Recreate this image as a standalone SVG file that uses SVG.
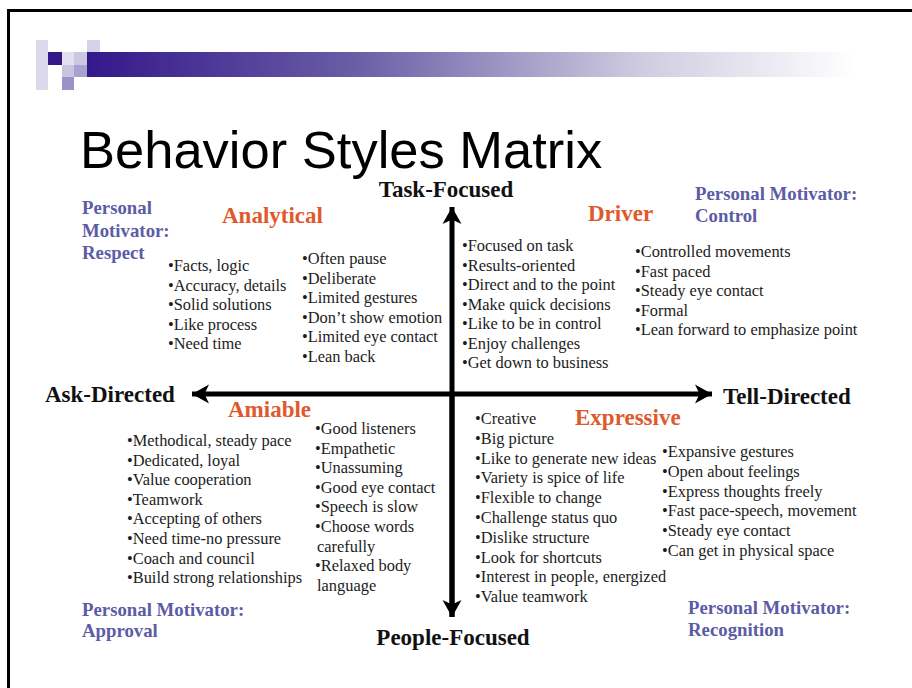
<svg xmlns="http://www.w3.org/2000/svg" width="912" height="688" viewBox="0 0 912 688">
  <defs>
    <linearGradient id="barGrad" x1="0" y1="0" x2="1" y2="0">
      <stop offset="0" stop-color="#34188a"/>
      <stop offset="0.35" stop-color="#6a5ea6"/>
      <stop offset="0.72" stop-color="#cfcce0"/>
      <stop offset="1" stop-color="#ffffff"/>
    </linearGradient>
    <marker id="head" markerUnits="userSpaceOnUse" markerWidth="22" markerHeight="22" viewBox="0 0 22 22" refX="19" refY="11" orient="auto">
      <path d="M19,11 L2,1.5 L6.5,11 L2,20.5 Z" fill="#000"/>
    </marker>
    <style>
      .axis { fill: none; stroke: #000; stroke-width: 5; marker-end: url(#head); }
      .axisLabel { font-family: "Liberation Serif", "Times New Roman", serif; font-weight: bold; font-size: 23px; fill: #111; }
      .style { font-family: "Liberation Serif", "Times New Roman", serif; font-weight: bold; font-size: 23px; fill: #e0592c; }
      .motive { font-family: "Liberation Serif", "Times New Roman", serif; font-weight: bold; font-size: 18.8px; fill: #5c5ca6; }
      .item { font-family: "Liberation Serif", "Times New Roman", serif; font-size: 16.4px; fill: #1c1c1c; }
      .title { font-family: "Liberation Sans", Arial, sans-serif; font-size: 52.5px; fill: #000; }
    </style>
  </defs>

  <rect x="0" y="0" width="912" height="688" fill="#fff"/>
  <!-- slide frame -->
  <rect x="8.5" y="10.5" width="912" height="690" fill="none" stroke="#000" stroke-width="3"/>

  <!-- header ornament: pixel blocks and fading bar -->
  <g id="header">
    <rect x="87" y="52" width="770" height="25" fill="url(#barGrad)"/>
    <rect x="36" y="40" width="12" height="50" fill="#dcd9ea"/>
    <rect x="87" y="40" width="13" height="12" fill="#d6d2e8"/>
    <rect x="48" y="52" width="14" height="13" fill="#34188a"/>
    <rect x="62" y="52" width="12" height="13" fill="#e2dff0"/>
    <rect x="74" y="52" width="13" height="13" fill="#cdc8e2"/>
    <rect x="62" y="65" width="12" height="12" fill="#c9c4e0"/>
    <rect x="74" y="65" width="13" height="12" fill="#a9a1d0"/>
    <rect x="62" y="77" width="12" height="13" fill="#9a92c8"/>
  </g>

  <g id="title">
    <text class="title" x="80" y="168">Behavior Styles Matrix</text>
  </g>

  <!-- the two axes -->
  <g id="connectors">
    <line class="axis" x1="452" y1="617" x2="452" y2="207"/>
    <line class="axis" x1="452" y1="394" x2="452" y2="617"/>
    <line class="axis" x1="452" y1="394" x2="192" y2="394"/>
    <line class="axis" x1="452" y1="394" x2="712" y2="394"/>
  </g>

  <g id="axis-task">
    <text class="axisLabel" x="446" y="197" text-anchor="middle">Task-Focused</text>
  </g>
  <g id="axis-people">
    <text class="axisLabel" x="453" y="645" text-anchor="middle">People-Focused</text>
  </g>
  <g id="axis-ask">
    <text class="axisLabel" x="45" y="402">Ask-Directed</text>
  </g>
  <g id="axis-tell">
    <text class="axisLabel" x="723" y="404">Tell-Directed</text>
  </g>

  <g id="analytical">
    <text class="style" x="222" y="223">Analytical</text>
    <text class="motive" x="82" y="214">Personal</text>
    <text class="motive" x="82" y="237">Motivator:</text>
    <text class="motive" x="82" y="259">Respect</text>
    <text class="item" x="168" y="271">•Facts, logic</text>
    <text class="item" x="168" y="290.5">•Accuracy, details</text>
    <text class="item" x="168" y="310">•Solid solutions</text>
    <text class="item" x="168" y="329.5">•Like process</text>
    <text class="item" x="168" y="349">•Need time</text>
    <text class="item" x="302" y="264">•Often pause</text>
    <text class="item" x="302" y="283.5">•Deliberate</text>
    <text class="item" x="302" y="303">•Limited gestures</text>
    <text class="item" x="302" y="322.5">•Don’t show emotion</text>
    <text class="item" x="302" y="342">•Limited eye contact</text>
    <text class="item" x="302" y="361.5">•Lean back</text>
  </g>

  <g id="driver">
    <text class="style" x="588" y="221">Driver</text>
    <text class="motive" x="695" y="200">Personal Motivator:</text>
    <text class="motive" x="695" y="222">Control</text>
    <text class="item" x="462" y="251">•Focused on task</text>
    <text class="item" x="462" y="270.5">•Results-oriented</text>
    <text class="item" x="462" y="290">•Direct and to the point</text>
    <text class="item" x="462" y="309.5">•Make quick decisions</text>
    <text class="item" x="462" y="329">•Like to be in control</text>
    <text class="item" x="462" y="348.5">•Enjoy challenges</text>
    <text class="item" x="462" y="368">•Get down to business</text>
    <text class="item" x="635" y="257">•Controlled movements</text>
    <text class="item" x="635" y="276.5">•Fast paced</text>
    <text class="item" x="635" y="296">•Steady eye contact</text>
    <text class="item" x="635" y="315.5">•Formal</text>
    <text class="item" x="635" y="335">•Lean forward to emphasize point</text>
  </g>

  <g id="amiable">
    <text class="style" x="228" y="417">Amiable</text>
    <text class="item" x="127" y="446">•Methodical, steady pace</text>
    <text class="item" x="127" y="465.6">•Dedicated, loyal</text>
    <text class="item" x="127" y="485.2">•Value cooperation</text>
    <text class="item" x="127" y="504.8">•Teamwork</text>
    <text class="item" x="127" y="524.4">•Accepting of others</text>
    <text class="item" x="127" y="544">•Need time-no pressure</text>
    <text class="item" x="127" y="563.6">•Coach and council</text>
    <text class="item" x="127" y="583.2">•Build strong relationships</text>
    <text class="item" x="315" y="434">•Good listeners</text>
    <text class="item" x="315" y="453.6">•Empathetic</text>
    <text class="item" x="315" y="473.2">•Unassuming</text>
    <text class="item" x="315" y="492.8">•Good eye contact</text>
    <text class="item" x="315" y="512.4">•Speech is slow</text>
    <text class="item" x="315" y="532">•Choose words</text>
    <text class="item" x="317" y="551.6">carefully</text>
    <text class="item" x="315" y="571.2">•Relaxed body</text>
    <text class="item" x="317" y="590.8">language</text>
    <text class="motive" x="82" y="616">Personal Motivator:</text>
    <text class="motive" x="82" y="637">Approval</text>
  </g>

  <g id="expressive">
    <text class="style" x="575" y="425">Expressive</text>
    <text class="item" x="475" y="424">•Creative</text>
    <text class="item" x="475" y="443.8">•Big picture</text>
    <text class="item" x="475" y="463.6">•Like to generate new ideas</text>
    <text class="item" x="475" y="483.4">•Variety is spice of life</text>
    <text class="item" x="475" y="503.2">•Flexible to change</text>
    <text class="item" x="475" y="523">•Challenge status quo</text>
    <text class="item" x="475" y="542.8">•Dislike structure</text>
    <text class="item" x="475" y="562.6">•Look for shortcuts</text>
    <text class="item" x="475" y="582.4">•Interest in people, energized</text>
    <text class="item" x="475" y="602.2">•Value teamwork</text>
    <text class="item" x="662" y="457">•Expansive gestures</text>
    <text class="item" x="662" y="476.8">•Open about feelings</text>
    <text class="item" x="662" y="496.6">•Express thoughts freely</text>
    <text class="item" x="662" y="516.4">•Fast pace-speech, movement</text>
    <text class="item" x="662" y="536.2">•Steady eye contact</text>
    <text class="item" x="662" y="556">•Can get in physical space</text>
    <text class="motive" x="688" y="614">Personal Motivator:</text>
    <text class="motive" x="688" y="636">Recognition</text>
  </g>
</svg>
